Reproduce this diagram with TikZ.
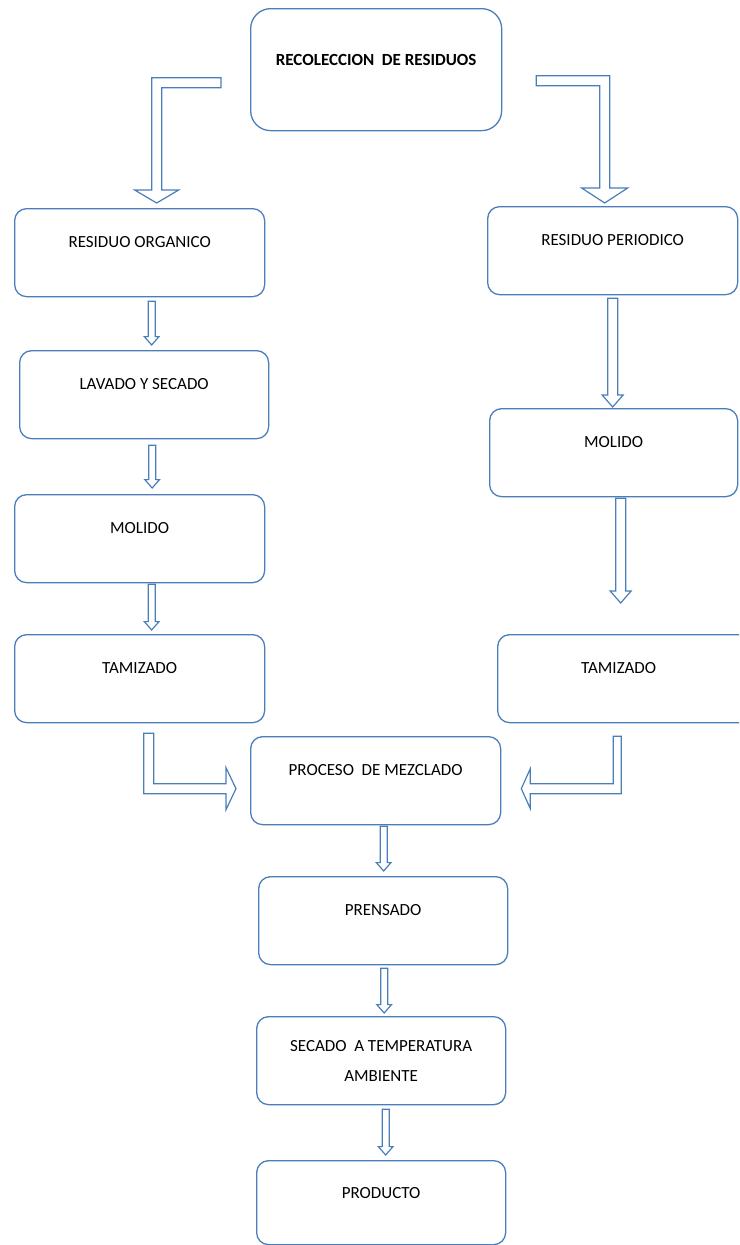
\documentclass[tikz,border=0pt]{standalone}
\usepackage{fontspec}
\setmainfont{Carlito}
\usetikzlibrary{calc}

\definecolor{azul}{RGB}{74,126,187}
\tikzset{
  caja/.style={draw=azul, line width=1.3pt, rounded corners=12, anchor=north west,
    minimum width=250, inner xsep=0, inner ysep=0, text height=39, text depth=49,
    font=\fontsize{17}{30}\selectfont},
  flecha/.style={draw=azul, line width=1.2pt, line join=miter},
}
% flecha hueca hacia abajo: #1 medio ancho, #2 inicio, #3 punta
\newcommand{\flechabaja}[3]{%
  \draw[flecha] let \p1=(#2), \p2=(#3) in
    (\x1-#1pt,\y1) -- (\x1-#1pt,\y2+2.4*#1pt) -- (\x1-2.1*#1pt,\y2+2.4*#1pt) -- (\x1,\y2)
    -- (\x1+2.1*#1pt,\y2+2.4*#1pt) -- (\x1+#1pt,\y2+2.4*#1pt) -- (\x1+#1pt,\y1) -- cycle;}

\begin{document}
\begin{tikzpicture}[x=1pt, y=-1pt]
        \useasboundingbox (0,0) rectangle (739,1245);
        \clip (0,0) rectangle (739,1245);
        \node[caja, minimum width=251, rounded corners=20, text height=57, text depth=65,
          font=\fontsize{17}{30}\selectfont\bfseries] (rec) at (250,8) {RECOLECCION\ \ DE RESIDUOS};
        % rama organica
        \node[caja] (org) at (14,208) {RESIDUO ORGANICO};
        \node[caja, minimum width=249] (lav) at (19,350) {LAVADO Y SECADO};
        \node[caja] (molL) at (14,494) {MOLIDO};
        \node[caja] (tamL) at (14,634) {TAMIZADO};
        % rama periodico
        \node[caja] (per) at (487,206) {RESIDUO PERIODICO};
        \node[caja, minimum width=248] (molR) at (489,408) {MOLIDO};
        \node[caja, minimum width=290] (tamR) at (497,634) {\hspace*{-48pt}TAMIZADO};
        % tramo comun
        \node[caja] (mez) at (250,736) {PROCESO\ \ DE MEZCLADO};
        \node[caja, minimum width=249] (pren) at (258,876) {PRENSADO};
        \node[caja, minimum width=249, align=center, text height=65, text depth=23] (sec) at (256,1016) {SECADO\ \ A TEMPERATURA\\AMBIENTE};
        \node[caja, minimum width=249, text height=38, text depth=46] (prod) at (256,1160) {PRODUCTO};

        % flechas en L desde la recoleccion
        \draw[flecha] let \p1=($(rec.west)+(-29,13)$), \p2=($(org.north)+(17,-5)$) in
          (\x1,\y1+5pt) -- (\x2-5pt,\y1+5pt) -- (\x2-5pt,\y2+13pt) -- (\x2-22pt,\y2+13pt) -- (\x2,\y2)
          -- (\x2+22pt,\y2+13pt) -- (\x2+5pt,\y2+13pt) -- (\x2+5pt,\y1-5pt) -- (\x1,\y1-5pt) -- cycle;
        \draw[flecha] let \p1=($(rec.east)+(34,11)$), \p2=($(per.north)+(-8,-3)$) in
          (\x1,\y1+5pt) -- (\x2+5pt,\y1+5pt) -- (\x2+5pt,\y2+15pt) -- (\x2+23pt,\y2+15pt) -- (\x2,\y2)
          -- (\x2-23pt,\y2+15pt) -- (\x2-5pt,\y2+15pt) -- (\x2-5pt,\y1-5pt) -- (\x1,\y1-5pt) -- cycle;

        \flechabaja{3.5}{$(org.south)+(12,4)$}{$(lav.north)+(0,-5)$}
        \flechabaja{3.5}{$(lav.south)+(8,6)$}{$(molL.north)+(0,-6)$}
        \flechabaja{3.5}{$(molL.south)+(12,1)$}{$(tamL.north)+(0,-4)$}
        \flechabaja{5}{$(per.south)+(0,3)$}{$(molR.north)+(0,-1)$}
        \flechabaja{5}{$(molR.south)+(7,1)$}{$(tamR.north)+(0,-31)$}

        % flechas en L hacia el mezclado
        \draw[flecha] let \p1=($(tamL.south)+(9,10)$), \p2=($(mez.west)+(-14,8)$) in
          (\x1-5pt,\y1) -- (\x1-5pt,\y2-5pt) -- (\x2-10pt,\y2-5pt) -- (\x2-10pt,\y2-21pt) -- (\x2,\y2)
          -- (\x2-10pt,\y2+21pt) -- (\x2-10pt,\y2+5pt) -- (\x1+5pt,\y2+5pt) -- (\x1+5pt,\y1) -- cycle;
        \draw[flecha] let \p1=($(tamR.south)+(-25.5,13)$), \p2=($(mez.east)+(20,8)$) in
          (\x1+4pt,\y1) -- (\x1+4pt,\y2-5pt) -- (\x2+9pt,\y2-5pt) -- (\x2+9pt,\y2-20pt) -- (\x2,\y2)
          -- (\x2+9pt,\y2+20pt) -- (\x2+9pt,\y2+5pt) -- (\x1-4pt,\y2+5pt) -- (\x1-4pt,\y1) -- cycle;

        \flechabaja{3.5}{$(mez.south)+(8,1)$}{$(pren.north)+(0,-5)$}
        \flechabaja{3.5}{$(pren.south)+(1,3)$}{$(sec.north)+(0,-3)$}
        \flechabaja{3.5}{$(sec.south)+(4.5,4)$}{$(prod.north)+(0,-5)$}
    \end{tikzpicture}
\end{document}
